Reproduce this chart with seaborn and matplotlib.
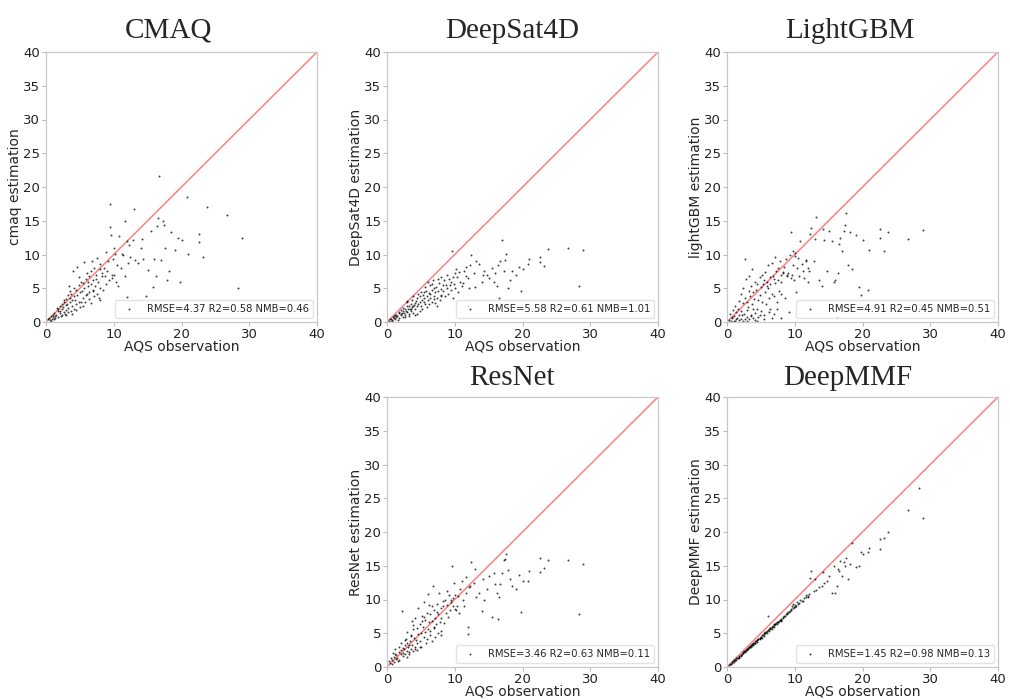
import numpy as np
import pandas as pd
import seaborn as sns
import matplotlib.pyplot as plt

aqs_obs = [
    0.3, 0.5, 0.6, 0.8, 0.9, 1.0, 1.1, 1.2, 1.3, 1.4,
    1.5, 1.7, 1.7, 1.8, 2.0, 2.0, 2.1, 2.3, 2.4, 2.4,
    2.5, 2.6, 2.7, 2.8, 2.9, 3.0, 3.0, 3.1, 3.2, 3.3,
    3.4, 3.5, 3.6, 3.7, 3.7, 3.8, 3.9, 4.0, 4.1, 4.2,
    4.3, 4.4, 4.5, 4.6, 4.6, 4.8, 4.9, 5.0, 5.0, 5.2,
    5.3, 5.4, 5.5, 5.6, 5.6, 5.8, 5.9, 6.0, 6.1, 6.2,
    6.3, 6.4, 6.4, 6.6, 6.7, 6.8, 6.9, 7.0, 7.1, 7.1,
    7.3, 7.4, 7.5, 7.5, 7.7, 7.8, 7.9, 8.0, 8.0, 8.2,
    8.3, 8.4, 8.6, 8.7, 8.8, 8.9, 9.0, 9.1, 9.3, 9.4,
    9.5, 9.6, 9.7, 9.8, 9.9, 10.0, 10.1, 10.2, 10.4, 10.5,
    10.7, 10.8, 11.0, 11.2, 11.4, 11.6, 11.7, 11.9, 12.0, 12.1,
    0.7, 1.2, 1.6, 2.2, 2.6, 2.9, 3.2, 3.5, 3.8, 4.1,
    4.4, 4.8, 5.1, 5.5, 5.9, 6.2, 6.6, 7.0, 7.4, 7.9,
    12.2, 12.4, 12.9, 13.0, 13.2, 13.6, 14.0, 14.1, 14.3, 14.8,
    15.0, 15.5, 15.8, 16.0, 16.2, 16.4, 16.5, 16.7, 17.0, 17.2,
    17.4, 17.6, 17.8, 18.2, 18.5, 19.0, 19.5, 19.8, 20.0, 20.8,
    21.0, 22.6, 22.6, 23.2, 23.8, 26.7, 28.3, 29.0,
]

cmaq_est = [
    0.4, 0.6, 0.3, 0.9, 0.5, 1.1, 0.7, 1.4, 0.9, 0.6,
    1.0, 1.6, 0.8, 2.0, 1.3, 2.4, 1.7, 1.1, 2.6, 1.9,
    2.2, 1.5, 3.0, 1.2, 2.5, 3.4, 1.8, 2.7, 4.0, 2.1,
    5.4, 2.9, 3.5, 1.6, 4.2, 2.4, 3.2, 7.5, 3.8, 2.0,
    3.3, 4.8, 2.6, 8.1, 4.0, 3.0, 5.5, 4.4, 2.2, 6.0,
    4.6, 3.6, 5.8, 8.9, 5.0, 3.0, 6.4, 4.1, 7.2, 5.4,
    6.8, 4.4, 3.4, 7.6, 5.6, 9.1, 4.8, 6.2, 3.9, 8.0,
    5.3, 7.0, 4.2, 9.5, 6.0, 3.6, 7.8, 5.0, 8.6, 6.8,
    7.3, 4.8, 8.0, 6.8, 5.6, 10.3, 7.6, 9.0, 6.2, 14.1,
    17.5, 12.9, 7.0, 6.5, 9.4, 7.0, 11.0, 10.1, 6.0, 8.5,
    5.4, 12.8, 8.0, 10.1, 9.9, 6.8, 15.0, 12.0, 3.7, 8.8,
    0.2, 0.5, 2.1, 0.9, 3.2, 1.0, 1.5, 4.6, 1.2, 5.0,
    1.8, 6.6, 3.0, 2.4, 4.0, 6.0, 2.8, 4.6, 6.4, 3.2,
    11.4, 9.7, 12.1, 16.7, 9.2, 8.7, 11.0, 12.3, 9.3, 3.9,
    7.7, 13.5, 5.2, 9.4, 6.8, 14.2, 15.4, 21.7, 9.2, 15.0,
    14.4, 10.9, 6.2, 7.5, 13.3, 10.7, 12.5, 5.9, 12.2, 18.5,
    10.1, 13.0, 11.9, 9.7, 17.0, 15.9, 5.1, 12.5,
]

deepsat_est = [
    0.2, 0.4, 0.5, 0.3, 0.7, 0.6, 0.9, 0.4, 0.8, 1.1,
    0.9, 1.3, 0.6, 1.5, 1.0, 1.8, 1.2, 0.8, 1.6, 2.1,
    1.4, 2.0, 1.1, 1.7, 2.4, 1.5, 2.9, 1.9, 1.2, 2.3,
    2.0, 2.6, 1.6, 3.2, 2.2, 1.4, 3.8, 2.5, 1.9, 2.8,
    3.1, 2.3, 3.6, 2.7, 4.2, 1.7, 3.0, 4.5, 2.4, 3.3,
    4.0, 2.9, 3.5, 5.2, 2.6, 4.6, 3.8, 6.0, 3.2, 4.3,
    3.6, 5.5, 4.2, 3.0, 4.8, 6.2, 3.9, 5.0, 2.8, 4.4,
    5.2, 3.6, 6.4, 4.6, 5.8, 3.2, 4.9, 6.6, 4.0, 5.5,
    4.6, 6.2, 3.8, 5.5, 7.0, 5.0, 4.2, 6.4, 5.5, 6.0,
    4.8, 10.5, 6.7, 3.5, 5.6, 5.0, 7.2, 7.8, 6.6, 4.5,
    7.4, 6.0, 5.4, 5.8, 7.5, 8.2, 6.8, 6.5, 2.3, 5.0,
    0.1, 1.0, 0.3, 1.3, 0.7, 3.1, 0.9, 1.9, 2.4, 1.1,
    1.2, 3.8, 2.0, 4.4, 2.2, 2.6, 5.6, 3.4, 2.4, 3.8,
    8.4, 10.0, 7.3, 5.2, 9.0, 8.6, 6.0, 7.0, 7.6, 7.0,
    6.5, 8.0, 6.0, 7.2, 5.4, 8.4, 3.6, 9.1, 12.1, 7.6,
    9.2, 10.1, 5.1, 6.2, 7.6, 7.0, 8.1, 4.6, 7.9, 8.6,
    9.4, 9.6, 8.9, 8.3, 10.8, 11.0, 5.3, 10.6,
]

lightgbm_est = [
    0.3, 1.2, 0.1, 0.6, 1.8, 0.2, 0.9, 2.4, 0.4, 1.5,
    0.6, 3.1, 1.0, 0.3, 4.2, 1.6, 0.5, 2.8, 0.2, 5.0,
    1.2, 0.4, 3.6, 6.3, 1.8, 0.7, 3.0, 2.2, 4.6, 0.5,
    3.8, 5.4, 1.0, 2.6, 7.8, 0.6, 4.4, 3.4, 6.0, 1.4,
    4.8, 2.0, 5.6, 3.2, 0.8, 6.6, 4.0, 1.6, 5.2, 7.0,
    5.6, 1.0, 6.2, 4.4, 7.4, 2.6, 6.0, 5.0, 8.4, 3.6,
    6.6, 2.0, 5.6, 8.8, 4.2, 6.8, 1.2, 6.4, 5.8, 9.6,
    7.6, 3.0, 6.2, 8.0, 4.6, 9.0, 7.0, 0.6, 6.0, 7.4,
    7.2, 8.1, 3.5, 9.3, 7.0, 6.8, 7.2, 1.5, 10.0, 6.5,
    13.3, 7.0, 8.4, 10.5, 6.2, 9.8, 10.2, 4.5, 8.0, 9.5,
    6.8, 12.0, 8.6, 7.5, 6.5, 9.2, 9.0, 8.0, 6.0, 7.6,
    0.8, 0.1, 2.0, 1.0, 9.4, 0.2, 6.8, 0.9, 2.0, 0.3,
    0.2, 1.0, 3.0, 0.4, 5.4, 1.5, 0.6, 3.8, 1.9, 4.2,
    13.0, 13.9, 9.1, 12.3, 15.5, 6.2, 5.4, 13.8, 12.1, 7.6,
    13.5, 12.0, 5.9, 6.2, 0.8, 7.2, 11.5, 12.5, 10.5, 13.5,
    14.4, 16.1, 8.5, 13.4, 7.9, 12.9, 5.2, 4.0, 12.1, 4.7,
    10.7, 13.8, 12.5, 10.5, 13.4, 12.3, 2.0, 13.7,
]

resnet_est = [
    0.9, 0.6, 1.3, 1.0, 2.1, 1.5, 0.8, 2.6, 1.2, 1.8,
    1.4, 2.2, 1.1, 3.0, 1.9, 2.5, 3.5, 1.7, 2.8, 2.1,
    2.6, 3.2, 2.0, 4.1, 2.4, 3.6, 5.2, 2.9, 3.3, 1.9,
    3.9, 2.7, 4.6, 6.8, 3.3, 2.4, 5.6, 4.3, 3.0, 7.2,
    4.0, 5.8, 3.5, 8.8, 4.9, 3.8, 6.4, 5.1, 2.9, 7.5,
    6.0, 4.4, 9.6, 5.2, 7.0, 3.6, 8.0, 5.6, 10.8, 6.6,
    7.8, 5.4, 4.8, 9.0, 6.8, 12.0, 6.0, 8.5, 4.4, 7.3,
    6.4, 9.4, 5.0, 7.8, 11.0, 6.6, 4.8, 8.8, 7.2, 9.8,
    9.1, 6.5, 10.0, 8.0, 11.3, 9.2, 7.4, 10.6, 8.4, 9.6,
    10.0, 15.0, 9.0, 10.2, 12.4, 10.6, 8.6, 8.5, 9.0, 10.5,
    8.0, 11.5, 12.8, 10.0, 9.0, 13.4, 11.0, 4.9, 5.9, 11.8,
    0.4, 2.0, 0.9, 8.3, 4.0, 1.5, 2.2, 4.8, 6.2, 2.6,
    2.5, 3.0, 6.8, 7.4, 4.2, 9.2, 3.8, 5.8, 8.2, 5.4,
    12.0, 15.5, 12.5, 14.5, 10.4, 11.0, 8.3, 13.0, 10.0, 11.5,
    13.5, 7.4, 14.0, 12.3, 11.0, 7.1, 10.3, 12.3, 14.0, 15.9,
    16.0, 16.8, 14.3, 13.0, 12.0, 11.5, 13.6, 8.1, 12.7, 12.7,
    14.2, 16.1, 14.1, 14.7, 15.8, 15.8, 7.9, 15.3,
]

deepmmf_est = [
    0.3, 0.5, 0.5, 0.7, 0.9, 0.8, 1.0, 1.1, 1.1, 1.3,
    1.3, 1.5, 1.4, 1.6, 1.8, 1.7, 1.8, 2.1, 2.1, 2.2,
    2.3, 2.3, 2.4, 2.5, 2.5, 2.7, 2.6, 2.8, 2.9, 2.9,
    3.1, 3.2, 3.1, 3.3, 3.4, 3.4, 3.5, 3.5, 3.6, 3.8,
    3.8, 4.0, 4.0, 4.2, 4.1, 4.3, 4.3, 4.5, 4.4, 4.7,
    4.8, 4.9, 5.0, 5.1, 5.2, 5.2, 5.3, 7.6, 5.5, 5.6,
    5.7, 5.8, 5.8, 6.0, 6.0, 6.1, 6.2, 6.3, 6.3, 6.4,
    6.5, 6.6, 6.7, 6.6, 6.8, 6.9, 7.0, 7.1, 7.0, 7.3,
    7.4, 7.6, 7.6, 7.8, 7.8, 8.0, 8.2, 8.1, 8.3, 8.5,
    8.6, 9.0, 8.8, 9.3, 8.9, 8.9, 9.2, 9.1, 9.6, 9.3,
    9.5, 10.0, 9.8, 9.8, 10.2, 10.4, 10.6, 10.4, 10.5, 10.8,
    0.6, 1.0, 1.3, 1.9, 2.2, 2.6, 2.8, 3.0, 3.3, 3.5,
    3.7, 4.1, 4.3, 4.6, 5.0, 5.3, 5.7, 6.0, 6.3, 6.8,
    13.2, 14.2, 11.2, 13.1, 11.4, 11.8, 12.0, 14.1, 12.5, 12.8,
    13.5, 10.9, 15.0, 11.0, 12.0, 14.5, 14.2, 15.7, 13.5, 15.5,
    15.0, 16.2, 13.0, 15.2, 18.3, 14.8, 14.9, 17.1, 16.7, 17.0,
    17.6, 18.9, 17.5, 19.1, 20.0, 23.2, 26.5, 22.1,
]

# panel titles, y labels and the scores shown in the legends
model_names = ["CMAQ", "DeepSat4D", "LightGBM", "ResNet", "DeepMMF"]
y_labels = ["cmaq estimation", "DeepSat4D estimation", "lightGBM estimation",
            "ResNet estimation", "DeepMMF estimation"]
rmse = [4.37, 5.58, 4.91, 3.46, 1.45]
r2 = [0.58, 0.61, 0.45, 0.63, 0.98]
nmb = [0.46, 1.01, 0.51, 0.11, 0.13]
estimates = [cmaq_est, deepsat_est, lightgbm_est, resnet_est, deepmmf_est]

# pixel layout of the five panels (left, top), bottom-left slot is empty
panel_px = [(46, 52), (387, 52), (727, 52), (387, 397), (727, 397)]
title_px = [(168, 38), (512, 38), (850, 38), (512, 385), (848, 385)]

axis_max = 40
W, H = 1010, 700
AX_W, AX_H = 271, 270

sns.set_style("white")
plt.rcParams["font.family"] = ["DejaVu Sans"]

fig = plt.figure(figsize=(W / 100, H / 100), dpi=100)

for i, name in enumerate(model_names):
    left, top = panel_px[i]
    ax = fig.add_axes([left / W, 1 - (top + AX_H) / H, AX_W / W, AX_H / H])

    df = pd.DataFrame({"obs": aqs_obs, "est": estimates[i]})
    label = "RMSE=%.2f R2=%.2f NMB=%.2f" % (rmse[i], r2[i], nmb[i])

    # identity line
    ax.plot([0, axis_max], [0, axis_max], color="red", alpha=0.5, lw=1.1, zorder=1)
    # observations vs estimation
    sns.scatterplot(data=df, x="obs", y="est", s=2, color="black", alpha=0.75,
                    linewidth=0, label=label, ax=ax, zorder=2)

    ax.set_xlim(0, axis_max)
    ax.set_ylim(0, axis_max)
    ax.set_xticks(np.arange(0, axis_max + 1, 10))
    ax.set_yticks(np.arange(0, axis_max + 1, 5))
    ax.set_xlabel("AQS observation", fontsize=10, labelpad=-1)
    ax.set_ylabel(y_labels[i], fontsize=10, labelpad=1)
    ax.tick_params(axis="both", labelsize=9.5, length=3, width=0.8,
                   color="#bbbbbb", labelcolor="#222222", pad=1.2, left=True, bottom=True)
    for sp in ax.spines.values():
        sp.set_color("#c8c8c8")
        sp.set_linewidth(0.9)

    ax.legend(loc="lower right", fontsize=7.2, markerscale=1.0, frameon=True,
              framealpha=0.8, edgecolor="#dddddd", borderaxespad=0.4)

    tx, ty = title_px[i]
    fig.text(tx / W, 1 - ty / H, name, ha="center", va="baseline",
             fontsize=21, family="Liberation Serif")

fig.savefig("out.png", dpi=100)
